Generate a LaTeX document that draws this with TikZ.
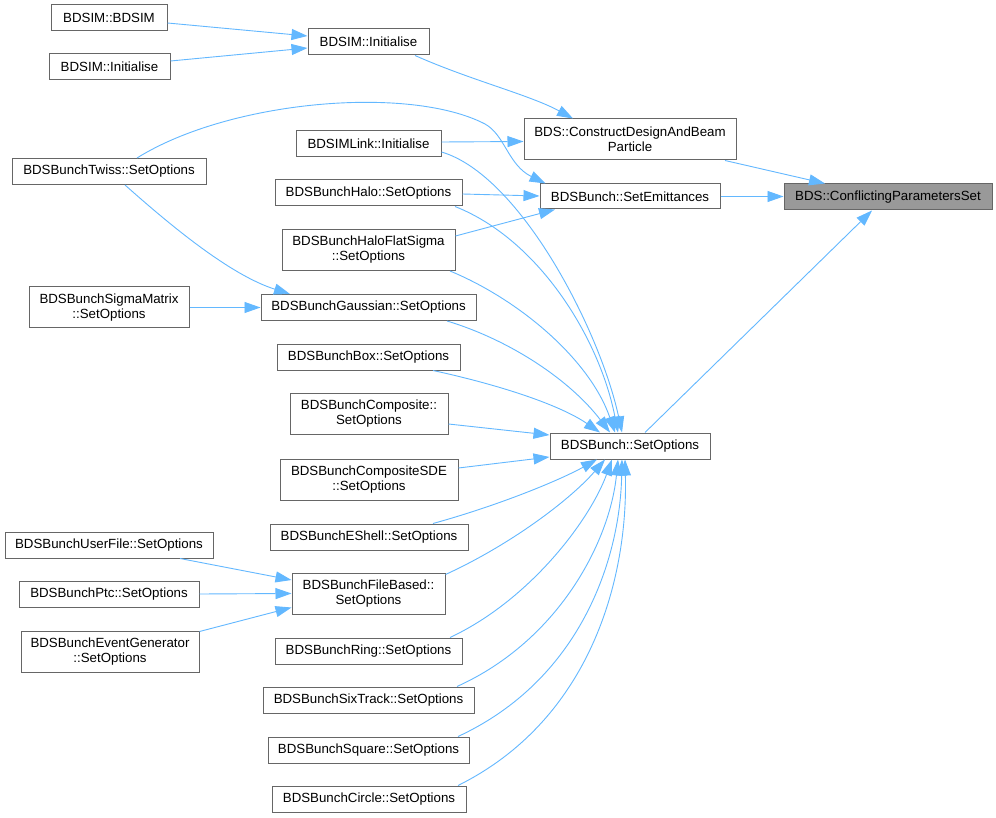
\documentclass[tikz,border=0pt]{standalone}
\usepackage{fontspec}
\setmainfont{Liberation Sans}
\usetikzlibrary{arrows.meta,calc}
\definecolor{edgec}{HTML}{63B8FF}
\definecolor{borderc}{HTML}{666666}
\definecolor{hlfill}{HTML}{999999}
\begin{document}
\begin{tikzpicture}[x=1pt,y=-1pt,
  nbox/.style={draw=borderc, line width=1pt, rectangle, inner sep=0pt, minimum height=26,
    font=\fontsize{13.3}{15}\selectfont, align=center, text=black},
  tall/.style={minimum height=41},
  edge/.style={draw=edgec, line width=0.9pt, arrows={-Triangle[length=16pt,width=11pt]}}]
\useasboundingbox[fill=white] (0,0) rectangle (996,818);
% nodes
\node[nbox, minimum width=116] (bdsim) at (109,18) {BDSIM::BDSIM};
\node[nbox, minimum width=121] (initL) at (109.5,67) {BDSIM::Initialise};
\node[nbox, minimum width=121] (initR) at (368.5,42) {BDSIM::Initialise};
\node[nbox, minimum width=145] (link) at (368.5,144) {BDSIMLink::Initialise};
\node[nbox, minimum width=194] (twiss) at (109,171.5) {BDSBunchTwiss::SetOptions};
\node[nbox, minimum width=187] (halo) at (368.5,193) {BDSBunchHalo::SetOptions};
\node[nbox, tall, minimum width=173] (haloflat) at (368.5,250) {BDSBunchHaloFlatSigma\\::SetOptions};
\node[nbox, tall, minimum width=160] (sigma) at (109,307.5) {BDSBunchSigmaMatrix\\::SetOptions};
\node[nbox, minimum width=215] (gauss) at (368.5,307.5) {BDSBunchGaussian::SetOptions};
\node[nbox, minimum width=183] (bbox) at (368.5,357) {BDSBunchBox::SetOptions};
\node[nbox, tall, minimum width=158] (comp) at (369,414) {BDSBunchComposite::\\SetOptions};
\node[nbox, minimum width=160] (sopt) at (630,446) {BDSBunch::SetOptions};
\node[nbox, tall, minimum width=178] (compsde) at (369,479.5) {BDSBunchCompositeSDE\\::SetOptions};
\node[nbox, minimum width=198] (eshell) at (369,537) {BDSBunchEShell::SetOptions};
\node[nbox, minimum width=208] (userfile) at (109,545) {BDSBunchUserFile::SetOptions};
\node[nbox, minimum width=180] (ptc) at (109,594) {BDSBunchPtc::SetOptions};
\node[nbox, tall, minimum width=178] (evgen) at (110,651.5) {BDSBunchEventGenerator\\::SetOptions};
\node[nbox, tall, minimum width=153] (filebased) at (368.5,593.5) {BDSBunchFileBased::\\SetOptions};
\node[nbox, minimum width=187] (ring) at (368.5,651) {BDSBunchRing::SetOptions};
\node[nbox, minimum width=211] (sixtrack) at (368.5,700) {BDSBunchSixTrack::SetOptions};
\node[nbox, minimum width=201] (square) at (368.5,750) {BDSBunchSquare::SetOptions};
\node[nbox, minimum width=194] (circle) at (369,799) {BDSBunchCircle::SetOptions};
\node[nbox, tall, minimum width=212] (construct) at (630,139.5) {BDS::ConstructDesignAndBeam\\Particle};
\node[nbox, minimum width=180, minimum height=25] (semit) at (630,196.5) {BDSBunch::SetEmittances};
\node[nbox, fill=hlfill, minimum width=208] (conflict) at (888,197) {BDS::ConflictingParametersSet};
% edges
\draw[edge] ($(bdsim.east)+(0,5)$) -- ($(initR.west)+(0,-6)$);
\draw[edge] ($(initL.east)+(0,-6)$) -- ($(initR.west)+(0,6)$);
\draw[edge] ($(initR.south)+(46.5,0)$) .. controls (470,80) and (530,95) .. ($(construct.north)+(-57,0)$);
\draw[edge] ($(construct.south)+(95,0)$) -- ($(conflict.north)+(-63,0)$);
\draw[edge] (semit.east) -- ($(conflict.west)+(0,-0.5)$);
\draw[edge] ($(sopt.north)+(15,0)$) -- ($(conflict.south)+(-16,0)$);
\draw[edge] ($(link.east)+(0,-2)$) -- ($(construct.west)+(0,2)$);
\draw[edge] ($(link.east)+(0,8)$) .. controls (520,175) and (600,330) .. ($(sopt.north)+(-8,0)$);
\draw[edge] ($(twiss.north)+(28,0)$) .. controls (230,100) and (410,85) .. (485,124)
   .. controls (505,135) and (508,165) .. ($(semit.north west)+(6,0)$);
\draw[edge] ($(twiss.south)+(16,0)$) .. controls (170,225) and (230,275) .. ($(gauss.north)+(-78.5,0)$);
\draw[edge] ($(halo.east)+(0,1)$) -- ($(semit.west)+(0,-0.5)$);
\draw[edge] ($(halo.south)+(86.5,0)$) .. controls (540,240) and (600,340) .. ($(sopt.north)+(-12,0)$);
\draw[edge] ($(haloflat.east)+(0,-14)$) -- ($(semit.south)+(-75,0)$);
\draw[edge] ($(haloflat.south)+(81.5,0)$) .. controls (520,300) and (590,360) .. ($(sopt.north)+(-15,0)$);
\draw[edge] (sigma.east) -- (gauss.west);
\draw[edge] ($(gauss.south)+(78.5,0)$) .. controls (510,340) and (570,380) .. ($(sopt.north)+(-20,0)$);
\draw[edge] ($(bbox.south)+(64.5,0)$) .. controls (500,385) and (560,405) .. ($(sopt.north)+(-30,0)$);
\draw[edge] ($(comp.east)+(0,10)$) -- ($(sopt.west)+(0,-11)$);
\draw[edge] ($(compsde.east)+(0,-11.5)$) -- ($(sopt.west)+(0,11)$);
\draw[edge] ($(eshell.north)+(64,0)$) .. controls (500,505) and (560,480) .. ($(sopt.south)+(-33,0)$);
\draw[edge] ($(filebased.north east)+(0,2)$) .. controls (510,545) and (570,500) .. ($(sopt.south)+(-25,0)$);
\draw[edge] ($(ring.north)+(81.5,0)$) .. controls (530,600) and (590,520) .. ($(sopt.south)+(-18,0)$);
\draw[edge] ($(sixtrack.north)+(88.5,0)$) .. controls (560,640) and (610,540) .. ($(sopt.south)+(-12,0)$);
\draw[edge] ($(square.north)+(89.5,0)$) .. controls (580,680) and (620,560) .. ($(sopt.south)+(-8,0)$);
\draw[edge] ($(circle.north)+(89,0)$) .. controls (590,720) and (628,580) .. ($(sopt.south)+(-5,0)$);
\draw[edge] ($(userfile.south)+(71,0)$) -- ($(filebased.west)+(0,-13.5)$);
\draw[edge] (ptc.east) -- (filebased.west);
\draw[edge] ($(evgen.north east)+(0,1)$) -- ($(filebased.west)+(0,14)$);
\end{tikzpicture}
\end{document}
